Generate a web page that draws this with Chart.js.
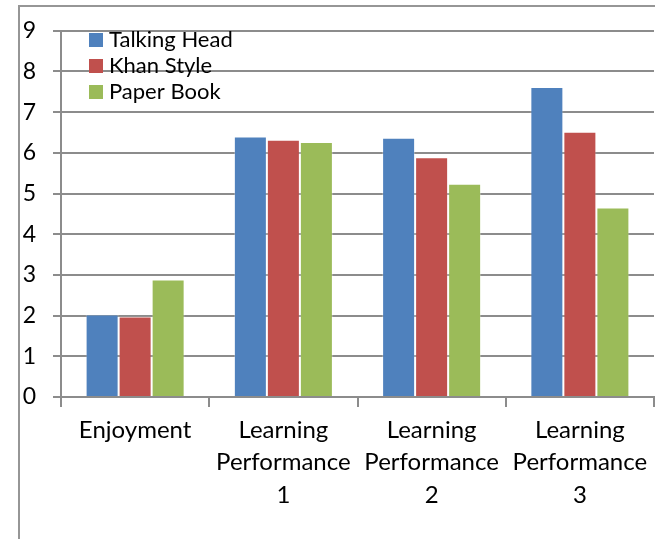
<!DOCTYPE html>
<html>
<head>
<meta charset="utf-8">
<script src="https://cdn.jsdelivr.net/npm/chart.js@4"></script>
<style>
  body { margin: 0; background: #fff; }
  #wrap { position: relative; width: 655px; height: 539px; overflow: hidden; }
  #frame { position: absolute; left: 18px; top: 5px; right: -10px; bottom: -10px;
           border-left: 2px solid #969696; border-top: 2px solid #969696; }
  #c { position: absolute; left: 0; top: 0; }
</style>
</head>
<body>
<div id="wrap">
  <div id="frame"></div>
  <canvas id="c" width="655" height="539"></canvas>
</div>
<script>
var categories = [["Enjoyment"], ["Learning", "Performance", "1"], ["Learning", "Performance", "2"], ["Learning", "Performance", "3"]];
var seriesNames = ["Talking Head", "Khan Style", "Paper Book"];
var talkingHead = [2.03, 6.40, 6.37, 7.62];
var khanStyle = [1.98, 6.32, 5.89, 6.52];
var paperBook = [2.89, 6.27, 5.24, 4.66];
var seriesColors = ["#4F81BD", "#C0504D", "#9BBB59"];
var yTicks = [0, 1, 2, 3, 4, 5, 6, 7, 8, 9];

var gridGray = "#8c8c8c";

// legend sits inside the plot, top left, like the original
var insideLegend = {
    id: "insideLegend",
    afterDatasetsDraw: function(chart) {
        var ctx = chart.ctx;
        ctx.save();
        ctx.font = "22px Lato";
        ctx.textBaseline = "alphabetic";
        for (var i = 0; i < chart.data.datasets.length; i++) {
            var ds = chart.data.datasets[i];
            var y = 33 + i * 26;
            ctx.fillStyle = ds.backgroundColor;
            ctx.fillRect(89, y, 14, 14);
            ctx.fillStyle = "#000";
            ctx.fillText(ds.label, 109, y + 14);
        }
        ctx.restore();
    }
};

var data = {
    labels: categories,
    datasets: [
        { label: seriesNames[0], data: talkingHead, backgroundColor: seriesColors[0] },
        { label: seriesNames[1], data: khanStyle, backgroundColor: seriesColors[1] },
        { label: seriesNames[2], data: paperBook, backgroundColor: seriesColors[2] }
    ]
};
data.datasets.forEach(function(ds) {
    ds.borderColor = "rgba(255,255,255,0.3)";
    ds.borderWidth = 1;
    ds.barPercentage = 1;
    ds.categoryPercentage = 0.668;
});

var chart = new Chart(document.getElementById("c"), {
    type: "bar",
    data: data,
    plugins: [insideLegend],
    options: {
        responsive: false,
        animation: false,
        layout: { padding: { top: 30, right: 1, left: 0, bottom: 0 } },
        plugins: {
            legend: { display: false },
            tooltip: { enabled: false }
        },
        scales: {
            x: {
                afterFit: function(scale) { scale.height = 142; },
                grid: { offset: true, drawOnChartArea: false, drawTicks: true, tickLength: 10, color: gridGray, lineWidth: 2 },
                border: { display: true, color: gridGray, width: 2 },
                ticks: { color: "#000", font: { family: "Lato", size: 24, lineHeight: 1.354 }, padding: 7, maxRotation: 0, autoSkip: false }
            },
            y: {
                min: 0,
                max: 9,
                afterFit: function(scale) { scale.width = 61; },
                afterBuildTicks: function(scale) { scale.ticks = yTicks.map(function(v) { return { value: v }; }); },
                grid: { color: gridGray, lineWidth: 2, tickLength: 8 },
                border: { display: true, color: gridGray, width: 2 },
                ticks: { color: "#000", font: { family: "Lato", size: 23 }, padding: 17 }
            }
        }
    }
});
</script>
</body>
</html>
